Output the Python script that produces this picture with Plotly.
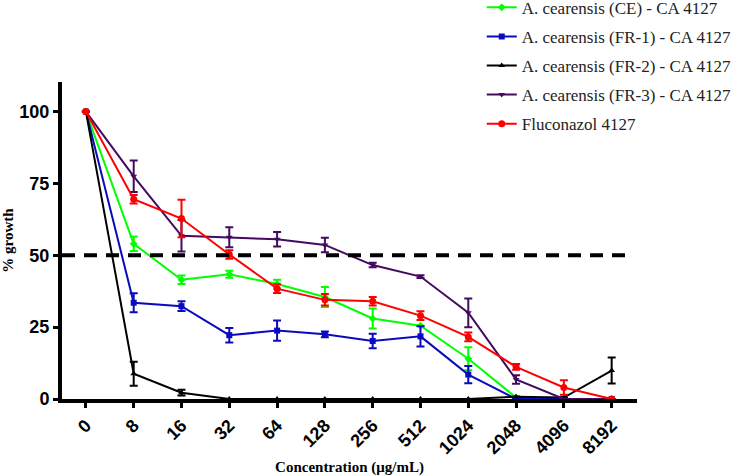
import plotly.graph_objects as go

categories = ["0", "8", "16", "32", "64", "128", "256", "512", "1024", "2048", "4096", "8192"]

names = [
    "A. cearensis (CE) - CA 4127",
    "A. cearensis (FR-1) - CA 4127",
    "A. cearensis (FR-2) - CA 4127",
    "A. cearensis (FR-3) - CA 4127",
    "Fluconazol 4127",
]

ce_vals = [100, 54.0, 41.5, 43.4, 40.0, 35.5, 28.0, 25.5, 14.0, 0.5, 0, 0]
ce_err = [0, 2.5, 1.5, 1.2, 1.5, 3.5, 3.5, 0, 4.0, 0.5, 0, 0]

fr1_vals = [100, 33.5, 32.3, 22.2, 23.8, 22.5, 20.2, 21.8, 8.5, 0, 0, 0]
fr1_err = [0, 3.3, 1.7, 2.5, 3.5, 1.0, 2.5, 3.5, 3.0, 0, 0, 0]

fr2_vals = [100, 8.8, 2.2, 0, 0, 0, 0, 0, 0, 0.8, 0.5, 9.9]
fr2_err = [0, 4.2, 1.0, 0, 0, 0, 0, 0, 0, 0, 0, 4.5]

fr3_vals = [100, 77.5, 56.8, 56.3, 55.6, 53.6, 46.6, 42.6, 30.0, 6.8, 0, 0]
fr3_err = [0, 5.5, 5.5, 3.5, 2.5, 2.5, 0.8, 0.5, 5.0, 1.5, 0, 0]

flu_vals = [100, 69.5, 62.8, 50.3, 38.4, 34.5, 34.0, 29.0, 21.6, 11.2, 4.0, 0]
flu_err = [0, 1.5, 6.5, 1.5, 1.5, 2.0, 1.5, 1.5, 1.5, 1.0, 2.5, 0]

threshold = 50

series = [
    (names[0], ce_vals, ce_err, "#00FF00", "diamond", 6),
    (names[1], fr1_vals, fr1_err, "#0A0ABE", "square", 6),
    (names[2], fr2_vals, fr2_err, "#000000", "triangle-up", 6),
    (names[3], fr3_vals, fr3_err, "#440A60", "triangle-down", 6),
    (names[4], flu_vals, flu_err, "#FF0000", "circle", 7),
]

x_idx = list(range(len(categories)))

fig = go.Figure()
for i, (nm, vals, err, col, sym, ms) in enumerate(series):
    fig.add_trace(go.Scatter(
        x=x_idx, y=vals, name=nm, mode="lines+markers",
        line=dict(color=col, width=2),
        marker=dict(symbol=sym, size=ms, color=col),
        error_y=dict(type="data", array=err, visible=True, color=col, thickness=2, width=4),
        legendgroup=f"g{i}",
        cliponaxis=False,
    ))

fig.add_shape(type="line", xref="paper", yref="y", x0=0.0, x1=0.99, y0=threshold, y1=threshold,
              line=dict(color="black", width=4, dash="13px,9px"), layer="above")

fig.update_layout(
    width=749, height=476,
    margin=dict(l=62, r=112, t=82, b=77, autoexpand=False),
    plot_bgcolor="white", paper_bgcolor="white",
    showlegend=True,
    legend=dict(x=0.730, y=1.291, xanchor="left", yanchor="top",
                font=dict(family="Liberation Serif", size=17, color="#222"),
                tracegroupgap=4, bgcolor="rgba(0,0,0,0)"),
    xaxis=dict(
        tickmode="array", tickvals=x_idx, ticktext=categories,
        range=[-0.5, 11.53], showgrid=False, zeroline=False,
        showline=True, linecolor="black", linewidth=4,
        ticks="outside", ticklen=5, tickwidth=3, tickcolor="black",
        tickangle=-45, automargin=False,
        tickfont=dict(family="Liberation Sans", size=18, color="black", weight="bold"),
        title=dict(text="<b>Concentration (μg/mL)</b>",
                   font=dict(family="Liberation Serif", size=15, color="black"), standoff=12),
    ),
    yaxis=dict(
        range=[0, 110.3], tickvals=[0, 25, 50, 75, 100],
        showgrid=False, zeroline=False,
        showline=True, linecolor="black", linewidth=4,
        ticks="outside", ticklen=5, tickwidth=3, tickcolor="black",
        automargin=False,
        tickfont=dict(family="Liberation Sans", size=18, color="black", weight="bold"),
        title=dict(text="<b>% growth</b>",
                   font=dict(family="Liberation Serif", size=15, color="black"), standoff=3),
    ),
)

fig.write_html("out.html", config={"displayModeBar": False},
               post_script="document.body.style.margin='0px';")
